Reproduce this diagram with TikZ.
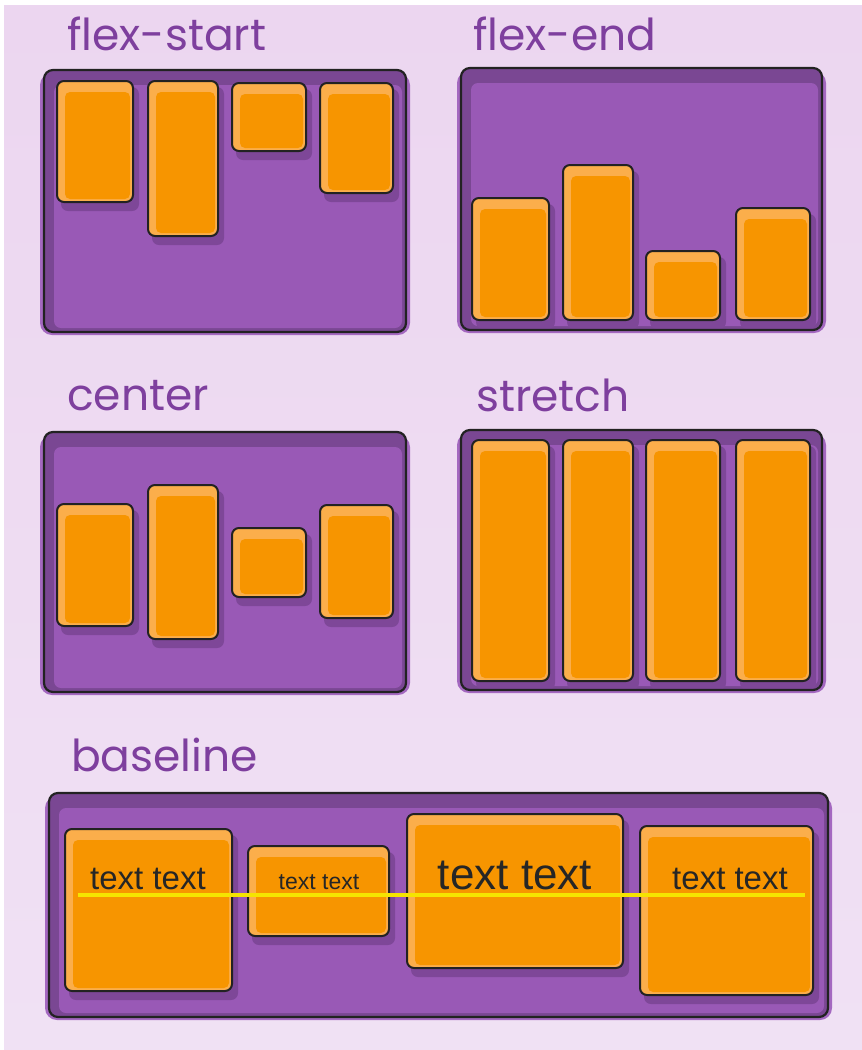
\documentclass[tikz,border=0pt]{standalone}
\usepackage{fontspec}
\newfontfamily\labelfont{Poppins}
\newfontfamily\itemfont{Liberation Sans}
\definecolor{bgc}{HTML}{ECD6F0}
\definecolor{bgc2}{HTML}{F0E1F4}
\definecolor{cpurple}{HTML}{9959B6}
\definecolor{cdark}{HTML}{7A4793}
\definecolor{chalo}{HTML}{A468C0}
\definecolor{corange}{HTML}{F79500}
\definecolor{chi}{HTML}{FBAE4B}
\definecolor{cshadow}{HTML}{7E4798}
\definecolor{clabel}{HTML}{7E3F9E}
\definecolor{coutline}{HTML}{222222}
\definecolor{cyellow}{HTML}{F5E400}
\tikzset{
  outline/.style={draw=coutline, line width=2.2pt},
  lbl/.style={font=\labelfont\fontsize{44}{50}\selectfont, text=clabel, anchor=base west, inner sep=0pt},
  itemtxt/.style={text=black!85, anchor=base, inner sep=0pt},
}
% container background
\newcommand\flexbase[4]{%
  \fill[chalo, rounded corners=12pt] (#1-4,#2+3) rectangle (#3+4,#4+3);
  \fill[cdark, rounded corners=9pt] (#1,#2) rectangle (#3,#4);
  \fill[cpurple, rounded corners=7pt] (#1+10,#2+15) rectangle (#3-4,#4-4);
}
% container clip and border
\newcommand\flexclip[4]{\clip[rounded corners=9pt] (#1,#2) rectangle (#3,#4);}
\newcommand\flexborder[4]{\draw[outline, rounded corners=9pt] (#1,#2) rectangle (#3,#4);}
% item
\newcommand\flexitem[4]{%
  \fill[cshadow, rounded corners=7pt] (#1+4,#2+6) rectangle (#3+6,#4+9);
  \fill[chi, rounded corners=7pt] (#1,#2) rectangle (#3,#4);
  \fill[corange, rounded corners=5pt] (#1+8,#2+11) rectangle (#3-3,#4-3);
  \draw[coutline, line width=2pt, rounded corners=7pt] (#1,#2) rectangle (#3,#4);
}
\begin{document}
\begin{tikzpicture}[x=1pt,y=-1pt]
\useasboundingbox (0,0) rectangle (862,1050);
\fill[white] (0,0) rectangle (862,1050);
\shade[top color=bgc, bottom color=bgc2] (4,5) rectangle (862,1050);

% labels
\node[lbl] (l1) at (67,50) {flex-start};
\node[lbl] (l2) at (473,50) {flex-end};
\node[lbl] (l3) at (67,410) {center};
\node[lbl] (l4) at (476,411) {stretch};
\node[lbl] (l5) at (71,771) {baseline};

% flex-start
\flexbase{44}{70}{406}{332}
\begin{scope}
\flexclip{44}{70}{406}{332}
\flexitem{57}{81}{133}{202}
\flexitem{148}{81}{218}{236}
\flexitem{232}{83}{306}{151}
\flexitem{320}{83}{393}{193}
\end{scope}
\flexborder{44}{70}{406}{332}

% flex-end
\flexbase{461}{68}{822}{330}
\begin{scope}
\flexclip{461}{68}{822}{330}
\flexitem{472}{198}{549}{320}
\flexitem{563}{165}{633}{320}
\flexitem{646}{251}{720}{320}
\flexitem{736}{208}{810}{320}
\end{scope}
\flexborder{461}{68}{822}{330}

% center
\flexbase{44}{432}{406}{692}
\begin{scope}
\flexclip{44}{432}{406}{692}
\flexitem{57}{504}{133}{626}
\flexitem{148}{485}{218}{639}
\flexitem{232}{528}{306}{597}
\flexitem{320}{505}{393}{618}
\end{scope}
\flexborder{44}{432}{406}{692}

% stretch
\flexbase{461}{430}{822}{690}
\begin{scope}
\flexclip{461}{430}{822}{690}
\flexitem{472}{440}{549}{681}
\flexitem{563}{440}{633}{681}
\flexitem{646}{440}{720}{681}
\flexitem{736}{440}{810}{681}
\end{scope}
\flexborder{461}{430}{822}{690}

% baseline
\flexbase{49}{793}{828}{1017}
\begin{scope}
\flexclip{49}{793}{828}{1017}
\flexitem{65}{829}{232}{991}
\flexitem{248}{846}{389}{936}
\flexitem{407}{814}{623}{968}
\flexitem{640}{826}{813}{995}
\end{scope}
\flexborder{49}{793}{828}{1017}

\coordinate (ys) at (78,895);
\coordinate (ye) at (805,895);
\draw[cyellow, line width=3.5pt] (ys) -- (ye);

\node[itemtxt, font=\itemfont\fontsize{33}{36}\selectfont] (t1) at (148,889) {text text};
\node[itemtxt, font=\itemfont\fontsize{23}{26}\selectfont] (t2) at (319,889) {text text};
\node[itemtxt, font=\itemfont\fontsize{44}{48}\selectfont] (t3) at (515,889) {text text};
\node[itemtxt, font=\itemfont\fontsize{33}{36}\selectfont] (t4) at (730,889) {text text};
\end{tikzpicture}
\end{document}
